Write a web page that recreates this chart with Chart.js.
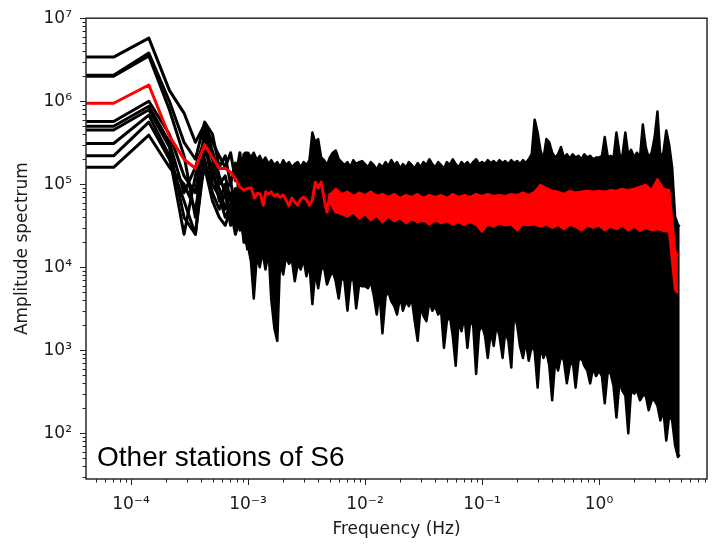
<!DOCTYPE html>
<html>
<head>
<meta charset="utf-8">
<script src="https://cdn.jsdelivr.net/npm/chart.js@4.4.1/dist/chart.umd.min.js"></script>
<style>
html,body{margin:0;padding:0;background:#fff;}
#wrap{width:719px;height:545px;position:relative;}
</style>
</head>
<body>
<div id="wrap"><canvas id="c" width="719" height="545"></canvas></div>
<script>
// ---------------- data ----------------
const panelLabel = 'Other stations of S6';
const xTitle = 'Frequency (Hz)';
const yTitle = 'Amplitude spectrum';
const xTickExps = [-4, -3, -2, -1, 0];
const xTickLabels = ['10⁻⁴', '10⁻³', '10⁻²', '10⁻¹', '10⁰'];
const yTickExps = [2, 3, 4, 5, 6, 7];
const yTickLabels = ['10²', '10³', '10⁴', '10⁵', '10⁶', '10⁷'];
const X_MIN = 4.124e-5, X_MAX = 8.38;
const Y_MIN = 28.2, Y_MAX = 1e7;

// low-frequency harmonics of the individual stations
const stationFreq = [4.124e-5, 7.1e-5, 1.42e-4, 2.13e-4, 2.84e-4, 3.55e-4, 4.26e-4, 4.97e-4, 5.68e-4, 6.39e-4, 7.1e-4, 7.81e-4, 8.52e-4, 9.23e-4, 9.94e-4];
const station1 = [3.4e6, 3.4e6, 5.75e6, 1.35e6, 7.2e5, 3.2e5, 5.25e5, 3.2e5, 2.2e5, 1.6e5, 2.4e5, 1.1e5, 2.4e5, 8.9e4, 1.26e5];
const station2 = [2.05e6, 2.05e6, 3.8e6, 1.0e6, 3.2e5, 2.0e5, 5.6e5, 4.0e5, 1.6e5, 2.2e5, 1.0e5, 1.8e5, 7.9e4, 2.3e5, 6.3e4];
const station3 = [2.0e6, 2.0e6, 3.5e6, 7.9e5, 2.2e5, 4.0e4, 5.0e5, 2.5e5, 1.26e5, 7.9e4, 1.1e5, 5.0e4, 1.0e5, 7.1e4, 8.9e4];
const station4 = [5.7e5, 5.7e5, 1.0e6, 4.0e5, 1.26e5, 7.9e4, 4.0e5, 2.0e5, 1.0e5, 1.26e5, 6.3e4, 8.9e4, 4.0e4, 7.9e4, 5.0e4];
const station5 = [5.0e5, 5.0e5, 8.7e5, 3.2e5, 7.9e4, 1.6e5, 3.5e5, 1.26e5, 8.9e4, 5.0e4, 7.9e4, 3.2e4, 6.3e4, 4.0e4, 7.1e4];
const station6 = [4.5e5, 4.5e5, 7.9e5, 2.8e5, 4.0e4, 2.5e4, 2.5e5, 1.6e5, 6.3e4, 1.0e5, 4.0e4, 7.1e4, 5.0e4, 2.5e4, 5.6e4];
const station7 = [3.1e5, 3.1e5, 6.8e5, 2.2e5, 2.5e4, 1.26e5, 3.2e5, 1.0e5, 7.1e4, 4.0e4, 5.6e4, 7.9e4, 2.8e4, 5.0e4, 3.2e4];
const station8 = [2.2e5, 2.2e5, 5.6e5, 2.0e5, 6.3e4, 2.5e4, 2.0e5, 7.9e4, 5.0e4, 7.9e4, 3.2e4, 4.5e4, 6.3e4, 2.0e4, 4.0e4];
const station9 = [1.6e5, 1.6e5, 3.9e5, 1.6e5, 1.0e5, 5.0e4, 1.6e5, 6.3e4, 4.0e4, 3.2e4, 5.0e4, 2.5e4, 4.0e4, 3.2e4, 1.6e4];

// sampling grid of the dense part (40 per decade)
const mant40 = [1.00,1.06,1.12,1.19,1.26,1.33,1.41,1.50,1.58,1.68,1.78,1.88,2.00,2.11,2.24,2.37,2.51,2.66,2.82,2.99,3.16,3.35,3.55,3.76,3.98,4.22,4.47,4.73,5.01,5.31,5.62,5.96,6.31,6.68,7.08,7.50,7.94,8.41,8.91,9.44];
const bandFreq = mant40.slice(36).map(m => m * 1e-4)
  .concat(mant40.map(m => m * 1e-3))
  .concat(mant40.map(m => m * 1e-2))
  .concat(mant40.map(m => m * 1e-1))
  .concat(mant40.slice(0, 28))
  .concat([4.9]);

// upper / lower envelope of the black band (all stations)
const bandUpper = [1.3e5, 2.0e5, 1.7e5, 2.4e5,
  2.4e5,2.1e5,2.4e5,1.95e5,2.2e5,1.85e5,2.1e5,1.75e5,1.95e5,1.7e5,1.85e5,1.6e5,1.95e5,1.7e5,1.85e5,1.6e5,1.75e5,1.85e5,1.6e5,1.85e5,1.7e5,1.95e5,4.2e5,3.2e5,3.5e5,2.1e5,1.95e5,1.7e5,2.1e5,2.4e5,2.55e5,2.0e5,1.85e5,1.7e5,1.85e5,1.6e5,1.95e5,1.75e5,1.85e5,1.9e5,
  1.75e5,1.6e5,1.85e5,1.7e5,1.5e5,1.75e5,1.6e5,1.85e5,1.65e5,1.95e5,1.7e5,1.85e5,1.55e5,1.75e5,1.6e5,1.85e5,1.7e5,1.55e5,1.8e5,1.6e5,1.85e5,1.7e5,2.0e5,1.75e5,1.6e5,1.85e5,1.7e5,1.55e5,1.85e5,1.7e5,2.0e5,1.75e5,1.6e5,1.85e5,1.7e5,1.85e5,1.65e5,1.85e5,2.0e5,1.75e5,
  1.85e5,1.75e5,1.95e5,1.8e5,1.9e5,1.75e5,1.95e5,1.8e5,1.9e5,1.75e5,1.95e5,1.8e5,1.9e5,1.75e5,1.95e5,1.8e5,2.0e5,2.3e5,6.0e5,4.2e5,2.55e5,2.0e5,3.5e5,3.2e5,2.4e5,2.1e5,2.3e5,2.8e5,2.1e5,2.3e5,2.05e5,2.3e5,2.1e5,2.2e5,2.0e5,2.3e5,2.1e5,2.2e5,2.0e5,2.1e5,
  2.1e5,2.2e5,3.7e5,2.1e5,2.2e5,2.05e5,4.2e5,2.3e5,2.1e5,4.2e5,2.2e5,2.6e5,2.1e5,2.4e5,2.1e5,5.25e5,2.8e5,2.1e5,2.4e5,3.7e5,7.5e5,2.1e5,2.4e5,4.45e5,3.0e5,1.6e5,4.1e4,3.25e4,3.1e4];
const bandLower = [6.0e4, 3.5e4, 2.8e4, 2.0e4,
  1.8e4,1.17e4,4.2e3,1.35e4,1.0e4,1.55e4,9.4e3,1.55e4,4.1e3,1.85e3,1.3e3,1.17e4,8.2e3,1.35e4,1.1e4,1.25e4,6.8e3,1.1e4,9.4e3,1.25e4,7.8e3,1.1e4,3.6e3,8.9e3,5.6e3,9.4e3,1.0e4,6.2e3,7.8e3,8.9e3,6.8e3,4.2e3,7.8e3,6.8e3,3.0e3,6.8e3,7.5e3,3.2e3,6.2e3,5.9e3,
  5.9e3,5.6e3,6.8e3,4.5e3,2.7e3,5.1e3,1.6e3,4.5e3,5.1e3,3.9e3,3.4e3,2.7e3,4.5e3,3.0e3,3.9e3,3.4e3,4.2e3,2.25e3,1.3e3,3.4e3,2.6e3,2.25e3,3.9e3,3.0e3,3.4e3,2.7e3,3.0e3,1.07e3,2.25e3,2.6e3,1.5e3,6.5e2,2.25e3,1.7e3,2.6e3,1.07e3,2.25e3,2.0e3,5.2e2,1.7e3,
  2.0e3,1.5e3,8.1e2,1.7e3,1.13e3,2.0e3,1.5e3,8.1e2,1.7e3,1.3e3,6.2e2,2.7e3,2.0e3,1.13e3,8.1e2,1.3e3,7.5e2,1.13e3,9.8e2,3.55e2,1.13e3,8.1e2,9.8e2,6.5e2,2.5e2,7.5e2,5.7e2,8.6e2,7.5e2,4.0e2,6.5e2,7.5e2,3.55e2,7.5e2,8.1e2,6.5e2,5.7e2,4.0e2,6.2e2,4.9e2,
  5.7e2,4.9e2,2.3e2,5.7e2,5.2e2,3.75e2,1.55e2,4.3e2,3.3e2,2.85e2,1.0e2,3.3e2,3.0e2,3.3e2,2.5e2,2.85e2,2.85e2,1.9e2,2.5e2,2.5e2,2.15e2,1.43e2,1.9e2,82,1.65e2,1.43e2,72,52,55];

// red (mean) spectrum: single line at low frequency ...
const meanFreq = [4.124e-5, 7.1e-5, 1.42e-4, 2.13e-4, 2.84e-4, 3.55e-4, 4.26e-4, 4.97e-4, 5.68e-4, 6.39e-4, 7.1e-4, 7.81e-4, 8.52e-4, 9.23e-4, 9.94e-4, 1.065e-3, 1.136e-3, 1.207e-3, 1.278e-3, 1.349e-3, 1.42e-3, 1.5e-3, 1.58e-3, 1.68e-3, 1.78e-3, 1.88e-3, 2.0e-3, 2.11e-3, 2.24e-3, 2.37e-3, 2.51e-3, 2.66e-3, 2.82e-3, 2.99e-3, 3.16e-3, 3.35e-3, 3.55e-3, 3.76e-3, 3.98e-3, 4.22e-3, 4.47e-3, 4.73e-3, 5.01e-3, 5.31e-3];
const meanVal = [9.45e5, 9.45e5, 1.57e6, 3.8e5, 2.0e5, 1.55e5, 3.0e5, 2.1e5, 1.55e5, 1.55e5, 1.4e5, 1.17e5, 9.3e4, 8.5e4, 8.9e4, 9.1e4, 6.8e4, 7.8e4, 7.6e4, 5.6e4, 8.1e4, 7.6e4, 8.1e4, 7.2e4, 7.6e4, 7.0e4, 7.4e4, 6.5e4, 5.5e4, 6.8e4, 6.1e4, 5.6e4, 6.6e4, 7.0e4, 6.5e4, 5.6e4, 6.5e4, 1.06e5, 9.0e4, 1.06e5, 6.8e4, 4.6e4, 7.6e4, 6.1e4];
// ... and a band at higher frequency (20 per decade)
const mant20 = [1.00,1.12,1.26,1.41,1.58,1.78,2.00,2.24,2.51,2.82,3.16,3.55,3.98,4.47,5.01,5.62,6.31,7.08,7.94,8.91];
const meanBandFreq = mant20.slice(14).map(m => m * 1e-3)
  .concat(mant20.map(m => m * 1e-2))
  .concat(mant20.map(m => m * 1e-1))
  .concat(mant20.slice(0, 14))
  .concat([4.73]);
const meanBandUpper = [7.4e4,8.8e4,7.6e4,8.1e4,7.2e4,7.9e4,
  7.4e4,8.1e4,7.2e4,7.6e4,7.0e4,7.6e4,6.8e4,7.4e4,7.0e4,7.6e4,6.8e4,7.4e4,7.0e4,7.4e4,6.8e4,7.6e4,7.0e4,7.4e4,7.0e4,7.6e4,
  7.2e4,7.6e4,7.2e4,7.4e4,7.2e4,7.6e4,7.4e4,7.9e4,7.4e4,8.1e4,9.8e4,9.0e4,8.3e4,8.1e4,7.6e4,8.3e4,7.9e4,8.1e4,8.3e4,8.1e4,
  8.3e4,8.1e4,8.5e4,8.3e4,8.8e4,8.5e4,8.8e4,9.3e4,9.8e4,8.5e4,1.15e5,8.8e4,8.5e4,1.55e4,1.38e4];
const meanBandLower = [6.0e4,4.6e4,4.4e4,4.1e4,4.6e4,3.9e4,
  4.4e4,3.7e4,4.2e4,3.5e4,4.1e4,3.6e4,3.9e4,3.4e4,3.8e4,3.5e4,3.7e4,3.3e4,3.7e4,3.4e4,3.6e4,3.3e4,3.5e4,3.25e4,3.5e4,3.3e4,
  2.7e4,3.3e4,3.1e4,3.4e4,3.2e4,3.3e4,2.8e4,3.3e4,3.2e4,3.3e4,3.1e4,3.3e4,3.0e4,3.25e4,2.9e4,3.25e4,3.1e4,2.8e4,3.2e4,3.0e4,
  3.2e4,2.8e4,3.1e4,2.9e4,3.2e4,2.8e4,3.1e4,2.75e4,3.0e4,2.8e4,2.9e4,2.75e4,2.7e4,5.4e3,4.9e3];

// ---------------- chart ----------------
const BLACK = '#000000', RED = '#ff0000', LW = 3;
const pts = (fs, vs) => fs.map((f, i) => ({ x: f, y: vs[i] }));
const base = { pointRadius: 0, tension: 0, borderJoinStyle: 'round', borderCapStyle: 'butt', fill: false, clip: 0 };

const datasets = [];
datasets.push(Object.assign({}, base, { data: pts(meanFreq, meanVal), borderColor: RED, borderWidth: LW, order: 0 }));
datasets.push(Object.assign({}, base, { data: pts(meanBandFreq, meanBandUpper), borderColor: RED, borderWidth: 2.5, backgroundColor: RED, fill: '+1', order: 0 }));
datasets.push(Object.assign({}, base, { data: pts(meanBandFreq, meanBandLower), borderColor: RED, borderWidth: 2.5, order: 0 }));
datasets.push(Object.assign({}, base, { data: pts(bandFreq, bandUpper), borderColor: BLACK, borderWidth: 2.5, backgroundColor: BLACK, fill: '+1', order: 1 }));
datasets.push(Object.assign({}, base, { data: pts(bandFreq, bandLower), borderColor: BLACK, borderWidth: 2.5, order: 1 }));
[station1, station2, station3, station4, station5, station6, station7, station8, station9].forEach(s => {
  datasets.push(Object.assign({}, base, { data: pts(stationFreq, s), borderColor: BLACK, borderWidth: LW, order: 2 }));
});

function labelFor(v, exps, labels) {
  const e = Math.log10(v), r = Math.round(e);
  if (Math.abs(e - r) > 1e-6) return '';
  const i = exps.indexOf(r);
  return i < 0 ? '' : labels[i];
}

const TEXT = '#1a1a1a';
const tickFont = { family: 'DejaVu Sans', size: 17 };

const decorations = {
  id: 'decorations',
  afterDatasetsDraw(chart) {
    const { ctx, chartArea: a, scales } = chart;
    ctx.save();
    ctx.strokeStyle = '#222';
    ctx.lineWidth = 1;
    const isNice = v => { const p = Math.pow(10, Math.floor(Math.log10(v) + 1e-9)); const m = v / p; return Math.abs(m - Math.round(m)) < 1e-6; };
    const isMajor = v => { const e = Math.log10(v); return Math.abs(e - Math.round(e)) < 1e-6; };
    scales.x.ticks.forEach(t => {
      if (!isNice(t.value)) return;
      const x = Math.round(scales.x.getPixelForValue(t.value)) + 0.5;
      const len = isMajor(t.value) ? 6 : 3.5;
      ctx.beginPath(); ctx.moveTo(x, a.bottom); ctx.lineTo(x, a.bottom + len); ctx.stroke();
    });
    scales.y.ticks.forEach(t => {
      if (!isNice(t.value)) return;
      const y = Math.round(scales.y.getPixelForValue(t.value)) + 0.5;
      const len = isMajor(t.value) ? 6 : 3.5;
      ctx.beginPath(); ctx.moveTo(a.left, y); ctx.lineTo(a.left - len, y); ctx.stroke();
    });
    ctx.strokeStyle = '#2a2a2a';
    ctx.lineWidth = 1.5;
    ctx.strokeRect(a.left, a.top, a.right - a.left, a.bottom - a.top);
    ctx.fillStyle = '#000';
    ctx.font = '28px "Liberation Sans", Arial, sans-serif';
    ctx.textAlign = 'left';
    ctx.textBaseline = 'alphabetic';
    ctx.fillText(panelLabel, a.left + 11, a.bottom - 13);
    ctx.restore();
  }
};

new Chart(document.getElementById('c'), {
  type: 'line',
  data: { datasets },
  options: {
    responsive: false,
    animation: false,
    events: [],
    layout: { padding: { top: 15, right: 12, left: 0, bottom: 0 } },
    plugins: { legend: { display: false }, tooltip: { enabled: false } },
    scales: {
      x: {
        type: 'logarithmic', position: 'bottom', min: X_MIN, max: X_MAX,
        afterFit: s => { s.height = 66; },
        grid: { display: true, drawOnChartArea: false, drawTicks: true, tickLength: 6, color: 'rgba(0,0,0,0)' },
        border: { display: false },
        ticks: { autoSkip: false, maxRotation: 0, minRotation: 0, padding: 9, color: TEXT, font: tickFont,
                 callback: v => labelFor(v, xTickExps, xTickLabels) },
        title: { display: true, text: xTitle, color: TEXT, font: tickFont, padding: { top: 0, bottom: 5 } }
      },
      y: {
        type: 'logarithmic', position: 'left', min: Y_MIN, max: Y_MAX,
        afterFit: s => { s.width = 86; },
        grid: { display: true, drawOnChartArea: false, drawTicks: true, tickLength: 6, color: 'rgba(0,0,0,0)' },
        border: { display: false },
        ticks: { autoSkip: false, padding: 8, color: TEXT, font: tickFont,
                 callback: v => labelFor(v, yTickExps, yTickLabels) },
        title: { display: true, text: yTitle, color: TEXT, font: tickFont, padding: { top: 12, bottom: 0 } }
      }
    }
  },
  plugins: [decorations]
});
</script>
</body>
</html>
